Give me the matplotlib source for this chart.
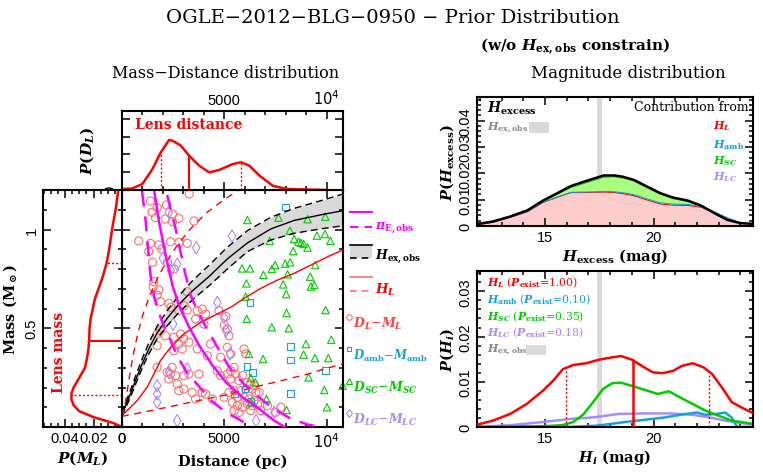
import matplotlib
matplotlib.use('Agg')
import matplotlib.pyplot as plt
from matplotlib.ticker import MultipleLocator, FixedLocator, NullFormatter, FixedFormatter
from matplotlib.patches import Rectangle
from matplotlib.lines import Line2D

plt.rcParams['mathtext.fontset'] = 'custom'
plt.rcParams['mathtext.rm'] = 'DejaVu Serif:bold'
plt.rcParams['mathtext.it'] = 'DejaVu Serif:italic:bold'
plt.rcParams['mathtext.bf'] = 'DejaVu Serif:bold'
plt.rcParams['font.family'] = ['Liberation Sans', 'DejaVu Sans']

# ---------------- data ----------------
# scatter: distance (pc), mass (Msun)
lens_D = [3285, 1389, 2173, 1716, 1471, 1634, 2468, 2778, 2108, 2468, 3513, 817, 1389, 1798, 2370, 2778,
          3187, 1307, 1945, 1487, 2223, 2549, 1553, 1520, 1798, 1716, 1879, 2288, 3187, 3040, 2386,
          2778, 3187, 3677, 3922, 4085, 4004, 4739, 3595, 1716, 1879, 2124, 2533, 2860, 3023, 2778,
          3268, 1716, 2533, 2941, 3677, 4330, 5147, 4167, 4821, 5311, 1716, 2206, 2370, 2451, 2615,
          2288, 2696, 3023, 3268, 3758, 2778, 3023, 3432, 3922, 4657, 4821, 5147, 5311, 4412, 4085,
          3595, 4984, 5229,
          5147, 5229, 5964, 6046, 5474, 5556, 5883, 5311, 5719, 6128, 6291, 6455, 5474, 5801, 6046,
          6373, 6536, 6700, 5638, 5964, 6209, 6455, 5392, 5638, 5883, 6128, 6373, 6618, 5474, 5719,
          6291, 6781, 7762, 7517, 7108, 5082, 5000]
lens_M = [1.180, 1.144, 1.124, 1.111, 1.087, 1.060, 1.078, 1.056, 1.053, 1.040, 1.043, 0.942, 0.930, 0.922,
          0.938, 0.935, 0.930, 0.888, 0.901, 0.834, 0.834, 0.800, 0.736, 0.711, 0.694, 0.668, 0.635,
          0.626, 0.685, 0.614, 0.606,
          0.589, 0.592, 0.589, 0.597, 0.572, 0.521, 0.589, 0.547, 0.471, 0.488, 0.462, 0.454, 0.471,
          0.446, 0.420, 0.429, 0.412, 0.386, 0.395, 0.395, 0.420, 0.403, 0.361, 0.353, 0.370, 0.302,
          0.277, 0.268, 0.302, 0.260, 0.243, 0.218, 0.260, 0.268, 0.268, 0.184, 0.192, 0.175, 0.175,
          0.285, 0.260, 0.268, 0.285, 0.142, 0.167, 0.142, 0.150, 0.175,
          0.496, 0.462, 0.395, 0.370, 0.302, 0.268, 0.260, 0.243, 0.235, 0.226, 0.218, 0.209, 0.184,
          0.184, 0.192, 0.192, 0.175, 0.175, 0.150, 0.150, 0.142, 0.133, 0.125, 0.108, 0.100, 0.116,
          0.108, 0.116, 0.083, 0.074, 0.083, 0.083, 0.100, 0.074, 0.108, 0.560, 0.516]

amb_D = [7991, 6258, 8235, 8235, 6111, 6389, 9951, 5491, 6013, 8235, 6308]
amb_M = [1.114, 0.631, 0.407, 0.339, 0.306, 0.277, 0.285, 0.167, 0.192, 0.170, 0.128]

sc_D = [6128, 7647, 9069, 9935, 8203, 9526, 9919, 7223, 8415, 8628, 8742, 8873, 9069, 8366, 10180, 5866,
        6258, 7484, 7321, 7974, 8219, 9445, 6912, 8089, 9200, 6079, 7876, 9232, 9396, 8023, 6046, 6095,
        8040, 9951, 7321, 8154, 10229, 8987, 8873, 9428, 10082, 6209, 6896, 6291, 6520, 9118, 10785,
        9886, 7059, 6291, 8040, 10017]
sc_M = [1.048, 1.060, 1.052, 1.065, 0.994, 0.969, 0.977, 0.942, 0.952, 0.938, 0.933, 0.927, 0.908, 0.891,
        0.942, 0.803, 0.803, 0.820, 0.800, 0.827, 0.834, 0.820, 0.770, 0.773, 0.761, 0.727, 0.722, 0.711,
        0.719, 0.673, 0.660, 0.547, 0.577, 0.592, 0.505, 0.500, 0.442, 0.420, 0.366, 0.349, 0.349, 0.370,
        0.344, 0.248, 0.226, 0.251, 0.209, 0.187, 0.142, 0.125, 0.086, 0.100]

lc_D = [2288, 3628, 5376, 1994, 2696, 2386, 4657, 4984, 5082, 5278, 2288, 3187, 1716, 1716, 1716, 2696,
        6553, 7435, 2500]
lc_M = [1.087, 0.908, 0.967, 0.854, 0.824, 0.792, 0.631, 0.555, 0.488, 0.370, 0.277, 0.294, 0.209, 0.167,
        0.125, 0.032, 0.032, 0.074, 0.521]

# constraint curves
piE_D = [1569, 1814, 2141, 2468, 2794, 3285, 3775, 4428, 5082, 5899, 6716, 7400, 7950]
piE_M = [1.200, 1.036, 0.867, 0.716, 0.614, 0.505, 0.412, 0.311, 0.226, 0.150, 0.091, 0.035, 0.0]
piE_lo_D = [981, 1144, 1258, 1389, 1553, 1716, 1977, 2206, 2696, 3187, 3758, 4363, 5082, 5834, 6300]
piE_lo_M = [1.192, 1.056, 0.922, 0.770, 0.668, 0.601, 0.530, 0.479, 0.361, 0.273, 0.206, 0.133, 0.074, 0.032, 0.0]
piE_hi_D = [2206, 2615, 2860, 3105, 3350, 3677, 4102, 4673, 5245, 5899, 6553, 7370, 8268, 9085, 9657]
piE_hi_M = [1.175, 1.006, 0.888, 0.770, 0.668, 0.592, 0.505, 0.403, 0.302, 0.223, 0.162, 0.095, 0.041, 0.012, 0.0]

hex_D = [0, 164, 409, 654, 981, 1307, 1716, 2206, 2713, 3448, 4265, 5147, 6128, 7272, 8415, 9886, 10801]
hex_M = [0.066, 0.108, 0.167, 0.235, 0.319, 0.395, 0.476, 0.550, 0.614, 0.690, 0.763, 0.851, 0.932, 1.003, 1.046, 1.078, 1.095]
hex_hi_M = [0.074, 0.121, 0.184, 0.255, 0.344, 0.425, 0.510, 0.589, 0.657, 0.741, 0.820, 0.910, 0.994, 1.062, 1.107, 1.151, 1.180]
hex_lo_M = [0.057, 0.094, 0.150, 0.214, 0.297, 0.370, 0.446, 0.513, 0.572, 0.645, 0.716, 0.800, 0.888, 0.947, 0.981, 1.006, 1.019]

hl_D = [0, 82, 327, 736, 1226, 1553, 1879, 2370, 3023, 3840, 4657, 5392, 5964, 6781, 7598, 8415, 9232, 10049, 10785]
hl_M = [0.060, 0.066, 0.091, 0.133, 0.201, 0.268, 0.336, 0.403, 0.471, 0.530, 0.572, 0.611, 0.651, 0.702, 0.744, 0.778, 0.820, 0.862, 0.896]
hl_hi_D = [0, 49, 180, 343, 539, 768, 1030, 1356, 1732, 2173, 2713, 3366, 4102, 4919, 5654]
hl_hi_M = [0.055, 0.066, 0.133, 0.243, 0.361, 0.471, 0.572, 0.665, 0.753, 0.837, 0.922, 1.006, 1.082, 1.146, 1.197]
hl_lo_D = [0, 997, 2206, 3350, 4494, 5311, 6226, 7598, 8415, 9069, 9886, 10785]
hl_lo_M = [0.054, 0.074, 0.100, 0.125, 0.150, 0.167, 0.196, 0.230, 0.251, 0.268, 0.294, 0.319]

# marginal distance distribution
pd_D = [16, 506, 996, 1487, 1895, 2303, 2467, 2875, 3284, 3774, 4264, 4754, 5408, 5816, 6224, 6715, 7368, 8022, 10000]
pd_P = [0.05, 0.09, 0.34, 1.18, 2.12, 2.82, 2.78, 2.5, 1.93, 1.37, 0.99, 1.13, 1.46, 1.56, 1.37, 0.81, 0.24, 0.06, 0.0]
pd_marks_D = [1895, 3284, 5816]
pd_marks_P = [2.12, 1.95, 1.56]

# marginal mass distribution
pm_M = [0.0, 0.02, 0.05, 0.08, 0.11, 0.14, 0.17, 0.2, 0.25, 0.3, 0.35, 0.4, 0.45, 0.5, 0.55, 0.6, 0.65,
        0.7, 0.75, 0.83, 0.9, 1.0, 1.1, 1.2]
pm_P = [0.0, 0.006, 0.02, 0.03, 0.034, 0.0355, 0.0355, 0.034, 0.030, 0.026, 0.0245, 0.0235, 0.023, 0.0228,
        0.022, 0.0205, 0.019, 0.0165, 0.014, 0.0108, 0.009, 0.007, 0.0045, 0.0026]
pm_marks_M = [0.162, 0.435, 0.83]
pm_marks_P = [0.0355, 0.023, 0.0108]

# magnitude distributions
Hex_obs = (17.41, 17.62)
mag_ex = [11.87, 12.6, 13.4, 14.2, 14.9, 15.6, 16.2, 16.9, 17.4, 17.7, 18.2, 18.6, 19.1, 19.7, 20.3, 20.9,
          21.6, 22.2, 22.8, 23.4, 24.0, 24.58]
ex_L = [0.0006, 0.0014, 0.0033, 0.0054, 0.0089, 0.0110, 0.0127, 0.0127, 0.0128, 0.0129, 0.0127, 0.0123,
        0.0115, 0.0099, 0.0084, 0.0079, 0.0078, 0.0071, 0.0052, 0.0030, 0.0012, 0.0008]
ex_amb = [0.0006, 0.0014, 0.0033, 0.0055, 0.0090, 0.0111, 0.0128, 0.0129, 0.0130, 0.0131, 0.0130, 0.0126,
          0.0119, 0.0103, 0.0088, 0.0083, 0.0082, 0.0074, 0.0054, 0.0031, 0.0012, 0.0008]
ex_SC = [0.0007, 0.0016, 0.0035, 0.0058, 0.0093, 0.0122, 0.0146, 0.0164, 0.0177, 0.0185, 0.0187, 0.0182,
         0.0170, 0.0145, 0.0121, 0.0104, 0.0092, 0.0074, 0.0047, 0.0022, 0.0011, 0.0008]
ex_LC = [0.0007, 0.0017, 0.0036, 0.0059, 0.0095, 0.0125, 0.0150, 0.0168, 0.0181, 0.0189, 0.0190, 0.0185,
         0.0173, 0.0148, 0.0123, 0.0106, 0.0094, 0.0076, 0.0048, 0.0023, 0.0011, 0.0008]
ex_tot = [0.0007, 0.0017, 0.0036, 0.0060, 0.0096, 0.0126, 0.0152, 0.0171, 0.0184, 0.0192, 0.0192, 0.0187,
          0.0175, 0.0150, 0.0125, 0.0108, 0.0096, 0.0077, 0.0049, 0.0023, 0.0011, 0.0008]

HL_mag = [11.87, 12.6, 13.4, 14.16, 14.9, 15.37, 15.83, 16.3, 16.9, 17.5, 18.1, 18.5, 19.0, 19.5, 19.96, 20.4,
          20.9, 21.3, 21.8, 22.3, 22.7, 23.2, 23.6, 24.1, 24.58]
HL_P = [0.0005, 0.0014, 0.0029, 0.0051, 0.0080, 0.0102, 0.0128, 0.0137, 0.0141, 0.0149, 0.0154, 0.0157,
        0.0149, 0.0134, 0.0121, 0.0119, 0.0124, 0.0135, 0.0141, 0.0132, 0.0117, 0.0084, 0.0055, 0.0042, 0.0031]
HSC_mag = [11.87, 15.0, 15.8, 16.3, 16.75, 17.2, 17.67, 18.1, 18.5, 19.0, 19.6, 20.2, 20.7, 21.2, 21.8, 22.4,
           23.0, 23.6, 24.58]
HSC_P = [0.0, 0.0002, 0.0004, 0.0011, 0.0027, 0.0054, 0.0084, 0.0097, 0.0098, 0.0091, 0.0082, 0.0073,
         0.0079, 0.0066, 0.0051, 0.0036, 0.0025, 0.0014, 0.0007]
Hamb_mag = [11.87, 16.0, 17.4, 18.7, 19.6, 20.5, 21.5, 22.0, 22.4, 22.9, 23.3, 23.6, 23.85, 24.58]
Hamb_P = [0.0, 0.0, 0.0003, 0.0011, 0.0016, 0.0021, 0.0029, 0.0032, 0.0027, 0.0029, 0.0032, 0.0021, 0.0, 0.0]
HLC_mag = [11.87, 13.4, 14.9, 16.2, 17.2, 18.4, 19.6, 20.8, 21.8, 22.6, 23.3, 24.58]
HLC_P = [0.0, 0.0004, 0.0011, 0.0018, 0.0021, 0.0029, 0.0030, 0.0030, 0.0027, 0.0021, 0.0014, 0.0005]
HL_marks = [15.97, 19.07, 22.57]
HL_marks_P = [0.0129, 0.0150, 0.0127]
P_exist = {'L': 1.00, 'amb': 0.10, 'SC': 0.35, 'LC': 0.18}

# ---------------- colours ----------------
RED = '#ff0000'
SALMON = '#ff6f6f'
MAG = '#ff00ff'
GREEN = '#00cc00'
BLUE = '#1a9fd6'
PURP = '#a58cff'
GRAY = '#d9d9d9'

W, H = 763, 477
fig = plt.figure(figsize=(W / 100, H / 100), dpi=100)


def box(x0, y0, x1, y1):
    return [x0 / W, 1 - y1 / H, (x1 - x0) / W, (y1 - y0) / H]


def T(x, y, s, **kw):
    kw.setdefault('ha', 'left')
    kw.setdefault('va', 'center')
    return fig.text(x / W, 1 - y / H, s, **kw)


def style(a):
    a.tick_params(which='both', direction='in', top=True, right=True, width=1.1, colors='black',
                  labelsize=10.5, pad=3)
    a.tick_params(which='major', length=6)
    a.tick_params(which='minor', length=3)
    for s in a.spines.values():
        s.set_linewidth(1.5)


ax = fig.add_axes(box(122, 191, 343, 428))
axt = fig.add_axes(box(122, 112, 343, 191))
axl = fig.add_axes(box(43, 191, 122, 428))
axr1 = fig.add_axes(box(477, 98, 753, 227))
axr2 = fig.add_axes(box(477, 272, 753, 428))
for a in (ax, axt, axl, axr1, axr2):
    style(a)

# ---------------- main panel ----------------
ax.fill_between(hex_D, hex_lo_M, hex_hi_M, color=GRAY, lw=0, zorder=1)
ax.plot(hex_D, hex_M, color='black', lw=1.0, zorder=3)
ax.plot(hex_D, hex_hi_M, color='black', lw=1.0, ls=(0, (5, 3)), zorder=3)
ax.plot(hex_D, hex_lo_M, color='black', lw=1.0, ls=(0, (5, 3)), zorder=3)
ax.plot(hl_D, hl_M, color=RED, lw=1.0, zorder=3)
ax.plot(hl_hi_D, hl_hi_M, color=RED, lw=1.0, ls=(0, (5, 4)), zorder=3)
ax.plot(hl_lo_D, hl_lo_M, color=RED, lw=1.0, ls=(0, (5, 4)), zorder=3)
ax.scatter(lens_D, lens_M, s=34, marker='o', facecolors='none', edgecolors=SALMON, linewidths=0.8, zorder=2)
ax.scatter(amb_D, amb_M, s=24, marker='s', facecolors='none', edgecolors=BLUE, linewidths=0.8, zorder=2)
ax.scatter(sc_D, sc_M, s=28, marker='^', facecolors='none', edgecolors=GREEN, linewidths=0.8, zorder=2,
           clip_on=False)
ax.scatter(lc_D, lc_M, s=40, marker='d', facecolors='none', edgecolors=PURP, linewidths=0.8, zorder=2)
ax.plot(piE_D, piE_M, color=MAG, lw=1.8, zorder=4)
ax.plot(piE_lo_D, piE_lo_M, color=MAG, lw=1.8, ls=(0, (6, 4)), zorder=4)
ax.plot(piE_hi_D, piE_hi_M, color=MAG, lw=1.8, ls=(0, (6, 4)), zorder=4)
ax.set_xlim(0, 10800)
ax.set_ylim(0, 1.2)
ax.xaxis.set_major_locator(FixedLocator([0, 5000, 10000]))
ax.xaxis.set_major_formatter(FixedFormatter(['0', '5000', r'$\mathsf{10^4}$']))
ax.xaxis.set_minor_locator(MultipleLocator(1000))
ax.yaxis.set_major_locator(FixedLocator([0.5, 1.0]))
ax.yaxis.set_minor_locator(MultipleLocator(0.1))
ax.yaxis.set_major_formatter(NullFormatter())
ax.set_xlabel('Distance (pc)', family='DejaVu Serif', weight='bold', fontsize=10.5, labelpad=3)

# ---------------- top marginal ----------------
axt.plot(pd_D, pd_P, color=RED, lw=1.8)
axt.vlines(pd_marks_D[0], 0, pd_marks_P[0], color=RED, lw=1.0, ls=(0, (1.5, 1.5)))
axt.vlines(pd_marks_D[1], 0, pd_marks_P[1], color=RED, lw=1.5)
axt.vlines(pd_marks_D[2], 0, pd_marks_P[2], color=RED, lw=1.0, ls=(0, (1.5, 1.5)))
axt.set_xlim(0, 10800)
axt.set_ylim(0, 4.45)
axt.xaxis.set_major_locator(FixedLocator([5000, 10000]))
axt.xaxis.set_minor_locator(MultipleLocator(1000))
axt.tick_params(axis='x', labelbottom=False, labeltop=True)
axt.xaxis.set_major_formatter(FixedFormatter(['5000', r'$\mathsf{10^4}$']))
axt.yaxis.set_major_locator(FixedLocator([0, 1, 2, 3, 4]))
axt.yaxis.set_major_formatter(FixedFormatter(['0', '', '', '', '']))
axt.tick_params(axis='y', labelrotation=90)
axt.set_ylabel(r'$P(D_L)$', fontsize=11, labelpad=6)
axt.text(0.06, 0.83, 'Lens distance', transform=axt.transAxes, color=RED, family='DejaVu Serif',
         weight='bold', fontsize=10, ha='left', va='center')

# ---------------- left marginal ----------------
axl.plot(pm_P, pm_M, color=RED, lw=1.8)
axl.hlines(pm_marks_M[0], 0, pm_marks_P[0], color=RED, lw=1.0, ls=(0, (1.5, 1.5)))
axl.hlines(pm_marks_M[1], 0, pm_marks_P[1], color=RED, lw=1.5)
axl.hlines(pm_marks_M[2], 0, pm_marks_P[2], color=RED, lw=1.0, ls=(0, (1.5, 1.5)))
axl.set_xlim(0.0555, 0)
axl.set_ylim(0, 1.2)
axl.xaxis.set_major_locator(FixedLocator([0, 0.02, 0.04]))
axl.xaxis.set_major_formatter(FixedFormatter(['0', '0.02', '0.04']))
axl.xaxis.set_minor_locator(MultipleLocator(0.005))
axl.yaxis.set_major_locator(FixedLocator([0.5, 1.0]))
axl.yaxis.set_major_formatter(FixedFormatter(['0.5', '1']))
axl.yaxis.set_minor_locator(MultipleLocator(0.1))
axl.tick_params(axis='y', labelrotation=90)
for lab in axl.get_yticklabels():
    lab.set_va('center')
axl.set_xlabel(r'$P(M_L)$', fontsize=11, labelpad=2)
axl.set_ylabel(r'Mass (M$_\odot$)', family='DejaVu Serif', weight='bold', fontsize=10.5, labelpad=4)
axl.text(0.2, 0.32, 'Lens mass', transform=axl.transAxes, color=RED, family='DejaVu Serif',
         weight='bold', fontsize=10, rotation=90, ha='center', va='center')

# ---------------- legend for main panel ----------------
fig.add_artist(Line2D([350 / W, 372 / W], [1 - 213 / H] * 2, color=MAG, lw=1.5))
fig.add_artist(Line2D([350 / W, 372 / W], [1 - 228 / H] * 2, color=MAG, lw=1.5, ls=(0, (4, 3))))
T(375, 228, r'$\pi_{\rm E,obs}$', color=MAG, fontsize=9)
fig.add_artist(Rectangle((350 / W, 1 - 259 / H), 22 / W, 13 / H, color=GRAY, lw=0))
fig.add_artist(Line2D([350 / W, 372 / W], [1 - 246 / H] * 2, color='black', lw=1.2))
fig.add_artist(Line2D([350 / W, 372 / W], [1 - 259 / H] * 2, color='black', lw=1.2, ls=(0, (4, 3))))
T(375, 257, r'$H_{\rm ex,obs}$', color='black', fontsize=9)
fig.add_artist(Line2D([350 / W, 372 / W], [1 - 278 / H] * 2, color=SALMON, lw=1.2))
fig.add_artist(Line2D([350 / W, 372 / W], [1 - 292 / H] * 2, color=SALMON, lw=1.2, ls=(0, (4, 3))))
T(375, 290, r'$H_L$', color=RED, fontsize=9.5)
fig.add_artist(Line2D([349 / W], [1 - 318 / H], marker='o', ms=4, mfc='none', mec=SALMON, mew=0.8, ls='none'))
T(353, 324, r'$D_L$' + '\u2212' + r'$M_L$', color='#ff4040', fontsize=9, family='DejaVu Serif')
fig.add_artist(Line2D([349 / W], [1 - 350 / H], marker='s', ms=3.5, mfc='none', mec=BLUE, mew=0.8, ls='none'))
T(353, 356, r'$D_{\rm amb}$' + '\u2212' + r'$M_{\rm amb}$', color=BLUE, fontsize=8.5, family='DejaVu Serif')
fig.add_artist(Line2D([349 / W], [1 - 382 / H], marker='^', ms=4, mfc='none', mec=GREEN, mew=0.8, ls='none'))
T(353, 388, r'$D_{SC}$' + '\u2212' + r'$M_{SC}$', color=GREEN, fontsize=9, family='DejaVu Serif')
fig.add_artist(Line2D([349 / W], [1 - 414 / H], marker='d', ms=4.5, mfc='none', mec=PURP, mew=0.8, ls='none'))
T(353, 420, r'$D_{LC}$' + '\u2212' + r'$M_{LC}$', color=PURP, fontsize=9, family='DejaVu Serif')

# ---------------- top right: excess ----------------
axr1.axvspan(*Hex_obs, color=GRAY, lw=0, zorder=0)
axr1.fill_between(mag_ex, 0, ex_L, color='#ffcccc', lw=0, zorder=1)
axr1.fill_between(mag_ex, ex_amb, ex_SC, color='#a8ff80', lw=0, zorder=1)
axr1.plot(mag_ex, ex_L, color=RED, lw=0.8, zorder=2)
axr1.plot(mag_ex, ex_amb, color=BLUE, lw=0.8, zorder=2)
axr1.plot(mag_ex, ex_SC, color=GREEN, lw=0.8, zorder=2)
axr1.plot(mag_ex, ex_LC, color=PURP, lw=0.8, zorder=2)
axr1.plot(mag_ex, ex_tot, color='black', lw=1.8, zorder=3)
axr1.set_xlim(11.87, 24.58)
axr1.set_ylim(0, 0.049)
axr1.xaxis.set_major_locator(FixedLocator([15, 20]))
axr1.xaxis.set_minor_locator(MultipleLocator(1))
axr1.yaxis.set_major_locator(FixedLocator([0, 0.01, 0.02, 0.03, 0.04]))
axr1.yaxis.set_major_formatter(FixedFormatter(['0', '0.01', '0.02', '0.03', '0.04']))
axr1.yaxis.set_minor_locator(MultipleLocator(0.002))
axr1.tick_params(axis='y', labelrotation=90)
for lab in axr1.get_yticklabels():
    lab.set_va('center')
axr1.set_xlabel(r'$H_{\rm excess}$ (mag)', family='DejaVu Serif', weight='bold', fontsize=10.5, labelpad=1)
axr1.set_ylabel(r'$P(H_{\rm excess})$', fontsize=10.5, labelpad=2)

T(487, 108, r'$H_{\rm excess}$', color='black', fontsize=10)
T(487, 128, r'$H_{\rm ex,obs}$', color='#888888', fontsize=8)
fig.add_artist(Rectangle((529 / W, 1 - 134 / H), 20 / W, 11 / H, color=GRAY, lw=0))
T(749, 108, 'Contribution from', color='black', fontsize=9, family='DejaVu Serif', ha='right')
T(713, 126, r'$H_L$', color=RED, fontsize=8)
T(713, 145, r'$H_{\rm amb}$', color=BLUE, fontsize=8)
T(713, 161, r'$H_{SC}$', color=GREEN, fontsize=8)
T(713, 177, r'$H_{LC}$', color=PURP, fontsize=8)

# ---------------- bottom right: individual ----------------
axr2.axvspan(*Hex_obs, color=GRAY, lw=0, zorder=0)
axr2.plot(HLC_mag, HLC_P, color=PURP, lw=1.8, zorder=2)
axr2.plot(Hamb_mag, Hamb_P, color=BLUE, lw=1.8, zorder=2)
axr2.plot(HSC_mag, HSC_P, color=GREEN, lw=1.8, zorder=2)
axr2.plot(HL_mag, HL_P, color=RED, lw=1.8, zorder=3)
axr2.vlines(HL_marks[0], 0, HL_marks_P[0], color=RED, lw=1.0, ls=(0, (1.5, 1.5)), zorder=3)
axr2.vlines(HL_marks[1], 0, HL_marks_P[1], color=RED, lw=1.8, zorder=3)
axr2.vlines(HL_marks[2], 0, HL_marks_P[2], color=RED, lw=1.0, ls=(0, (1.5, 1.5)), zorder=3)
axr2.set_xlim(11.87, 24.58)
axr2.set_ylim(0, 0.0345)
axr2.xaxis.set_major_locator(FixedLocator([15, 20]))
axr2.xaxis.set_minor_locator(MultipleLocator(1))
axr2.yaxis.set_major_locator(FixedLocator([0, 0.01, 0.02, 0.03]))
axr2.yaxis.set_major_formatter(FixedFormatter(['0', '0.01', '0.02', '0.03']))
axr2.yaxis.set_minor_locator(MultipleLocator(0.002))
axr2.tick_params(axis='y', labelrotation=90)
for lab in axr2.get_yticklabels():
    lab.set_va('center')
axr2.set_xlabel(r'$H_i$ (mag)', family='DejaVu Serif', weight='bold', fontsize=10.5, labelpad=1)
axr2.set_ylabel(r'$P(H_i)$', fontsize=10.5, labelpad=2)

T(487, 283, r'$H_L$ ($P_{\rm exist}$=%.2f)' % P_exist['L'], color=RED, fontsize=7.8, family='DejaVu Serif')
T(487, 300, r'$H_{\rm amb}$ ($P_{\rm exist}$=%.2f)' % P_exist['amb'], color=BLUE, fontsize=7.8, family='DejaVu Serif')
T(487, 317, r'$H_{SC}$ ($P_{\rm exist}$=%.2f)' % P_exist['SC'], color=GREEN, fontsize=7.8, family='DejaVu Serif')
T(487, 333, r'$H_{LC}$ ($P_{\rm exist}$=%.2f)' % P_exist['LC'], color=PURP, fontsize=7.8, family='DejaVu Serif')
T(487, 350, r'$H_{\rm ex,obs}$', color='#888888', fontsize=7.8)
fig.add_artist(Rectangle((526 / W, 1 - 356 / H), 20 / W, 10 / H, color=GRAY, lw=0))

# ---------------- titles ----------------
T(393, 18, 'OGLE\u22122012\u2212BLG\u22120950 \u2212 Prior Distribution', ha='center', fontsize=14,
  family='DejaVu Serif')
T(575, 46, r'(w/o $H_{\rm ex,obs}$ constrain)', ha='center', fontsize=11, family='DejaVu Serif', weight='bold')
T(226, 74, 'Mass\u2212Distance distribution', ha='center', fontsize=11.5, family='DejaVu Serif')
T(628, 74, 'Magnitude distribution', ha='center', fontsize=12, family='DejaVu Serif')

fig.savefig('out.png', dpi=100)
